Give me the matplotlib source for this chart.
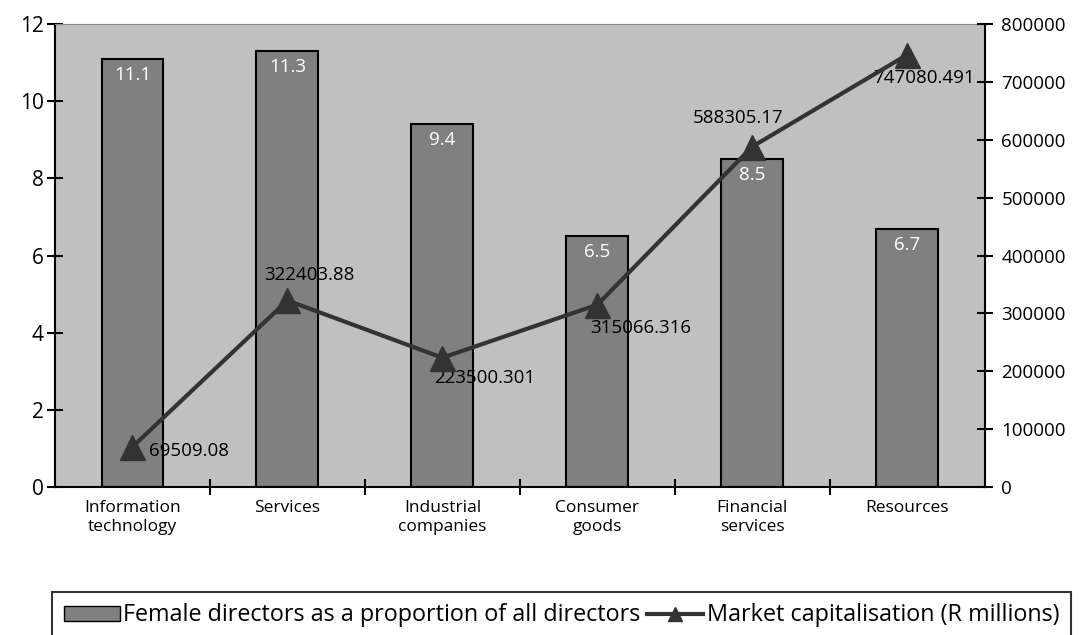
import matplotlib.pyplot as plt
from matplotlib.patches import Patch
from matplotlib.lines import Line2D
import numpy as np

plt.rcParams['font.family'] = ['Open Sans', 'DejaVu Sans']

categories = ["Information\ntechnology", "Services", "Industrial\ncompanies",
              "Consumer\ngoods", "Financial\nservices", "Resources"]
female_pct = [11.1, 11.3, 9.4, 6.5, 8.5, 6.7]
market_cap = [69509.08, 322403.88, 223500.301, 315066.316, 588305.17, 747080.491]
cap_labels = ["69509.08", "322403.88", "223500.301", "315066.316", "588305.17", "747080.491"]
# label offsets (points) and alignment per point
cap_offsets = [(12, -3, 'left', 'center'), (16, 12, 'center', 'bottom'),
               (-6, -8, 'left', 'top'), (-5, -10, 'left', 'top'),
               (-10, 14, 'center', 'bottom'), (12, -10, 'center', 'top')]

fig = plt.figure(figsize=(10.81, 6.35), dpi=100)
ax = fig.add_axes([0.0509, 0.233, 0.860, 0.729])
ax.set_facecolor('#c0c0c0')
x = np.arange(len(categories))

bars = ax.bar(x, female_pct, width=0.4, color='#808080', edgecolor='black', linewidth=1.5, zorder=2)
for xi, v in zip(x, female_pct):
    ax.annotate(f"{v}", (xi, v), xytext=(0, -5), textcoords='offset points',
                ha='center', va='top', color='white', fontsize=13.5, zorder=3)

ax.set_xlim(-0.5, len(categories) - 0.5)
ax.set_ylim(0, 12)
ax.set_yticks(range(0, 13, 2))
ax.tick_params(axis='y', labelsize=15, direction='inout', length=12, width=1.5, pad=2)
ax.set_xticks(x)
ax.set_xticklabels(categories, fontsize=12.5, linespacing=1.3)
ax.tick_params(axis='x', length=0, pad=9)
ax.set_xticks(np.arange(0.5, len(categories) - 0.5), minor=True)
ax.tick_params(axis='x', which='minor', direction='inout', length=12, width=1.5)
for s in ['left', 'bottom']:
    ax.spines[s].set_linewidth(1.5)
ax.spines['top'].set_color('#888888')
ax.spines['right'].set_visible(False)

ax2 = ax.twinx()
ax2.plot(x, market_cap, color='#333333', linewidth=3, marker='^', markersize=18, zorder=4)
for xi, v, lab, (dx, dy, ha, va) in zip(x, market_cap, cap_labels, cap_offsets):
    ax2.annotate(lab, (xi, v), xytext=(dx, dy), textcoords='offset points',
                 ha=ha, va=va, fontsize=13.5, color='black')
ax2.set_ylim(0, 800000)
ax2.set_yticks(range(0, 800001, 100000))
ax2.tick_params(axis='y', labelsize=13.5, direction='inout', length=12, width=1.5, pad=6)
ax2.spines['right'].set_linewidth(1.5)
for s in ['top', 'left', 'bottom']:
    ax2.spines[s].set_visible(False)

handles = [Patch(facecolor='#808080', edgecolor='black', label='Female directors as a proportion of all directors'),
           Line2D([0], [0], color='#333333', lw=3, marker='^', markersize=10, label='Market capitalisation (R millions)')]
leg = fig.legend(handles=handles, loc='upper left', bbox_to_anchor=(0.048, 0.068), ncol=2,
                 fontsize=16.8, frameon=True, fancybox=False, edgecolor='black',
                 handlelength=2.4, handleheight=0.6, handletextpad=0.15, columnspacing=0.3,
                 borderaxespad=0, borderpad=0.5)
leg.get_frame().set_linewidth(1.5)

fig.savefig('out.png', dpi=100)
